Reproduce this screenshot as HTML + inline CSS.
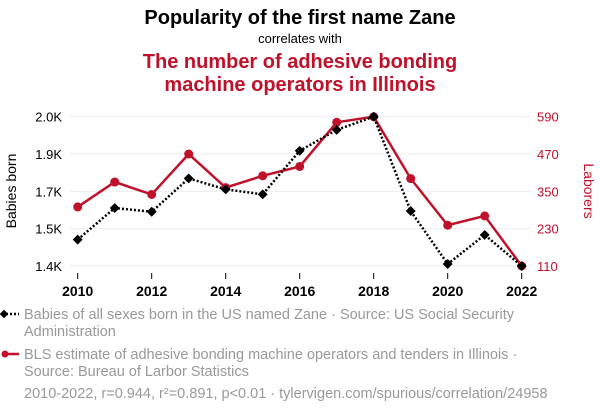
<!DOCTYPE html>
<html><head><meta charset="utf-8"><style>
body{margin:0;background:#fff;width:600px;height:414px;overflow:hidden;font-family:"Liberation Sans",Arial,sans-serif}
</style></head><body>
<svg id="c" width="600" height="414" xmlns="http://www.w3.org/2000/svg">
<text x="300" y="24" text-anchor="middle" font-size="20" font-weight="bold" fill="#000">Popularity of the first name Zane</text>
<text x="300" y="43" text-anchor="middle" font-size="13" fill="#000">correlates with</text>
<text x="300" y="68" text-anchor="middle" font-size="20" font-weight="bold" fill="#c0112b">The number of adhesive bonding</text>
<text x="300" y="91" text-anchor="middle" font-size="20" font-weight="bold" fill="#c0112b">machine operators in Illinois</text>
<text transform="translate(16,191) rotate(-90)" text-anchor="middle" font-size="14" fill="#000">Babies born</text>
<text transform="translate(584,191) rotate(90)" text-anchor="middle" font-size="14" fill="#c0112b">Laborers</text>
<g id="grid"></g><g id="axes"></g><g id="marks"></g>
<g>
<line x1="2" y1="314" x2="19" y2="314" stroke="#000" stroke-width="2.5" stroke-dasharray="2,2"/>
<rect x="1" y="311" width="6" height="6" transform="rotate(45 4 314)" fill="#000"/>
<text x="24" y="319" font-size="14.5" fill="#999">Babies of all sexes born in the US named Zane · Source: US Social Security</text>
<text x="24" y="336" font-size="14.5" fill="#999">Administration</text>
</g>
<g>
<line x1="2" y1="354" x2="19" y2="354" stroke="#c0112b" stroke-width="2.5"/>
<circle cx="5" cy="354" r="3.5" fill="#c0112b"/>
<text x="24" y="359" font-size="14.5" fill="#999">BLS estimate of adhesive bonding machine operators and tenders in Illinois ·</text>
<text x="24" y="376" font-size="14.5" fill="#999">Source: Bureau of Larbor Statistics</text>
</g>
<text x="24" y="398" font-size="14.5" fill="#999">2010-2022, r=0.944, r²=0.891, p&lt;0.01 · tylervigen.com/spurious/correlation/24958</text>
</svg>
<script>
const years=[2010,2011,2012,2013,2014,2015,2016,2017,2018,2019,2020,2021,2022];
const zane=[1506,1633,1618,1752,1708,1688,1863,1947,2000,1621,1408,1525,1400];
const operators=[300,380,340,470,362,400,430,572,590,391,241,271,110];
const leftTicks=[1400,1550,1700,1850,2000];
const leftTickLabels=["1.4K","1.5K","1.7K","1.9K","2.0K"];
const rightTicks=[110,230,350,470,590];
const xTicks=[2010,2012,2014,2016,2018,2020,2022];
const NS="http://www.w3.org/2000/svg";
const x=v=>77.7+(v-2010)*37;
const yL=v=>266-(v-1400)/600*149.3;
const yR=v=>266-(v-110)/480*149.3;
function mk(tag,attrs,parent){const e=document.createElementNS(NS,tag);for(const k in attrs)e.setAttribute(k,attrs[k]);document.getElementById(parent).appendChild(e);return e;}
leftTicks.forEach((t,i)=>{
 const g=mk('line',{x1:70,x2:530,y1:yL(t),y2:yL(t),stroke:'#eee','stroke-width':1},'grid');
 
 
 const l=mk('text',{x:62,y:yL(t)+5,'text-anchor':'end','font-size':13,fill:'#000'},'axes');
 l.textContent=leftTickLabels[i];
 
 
});
rightTicks.forEach(t=>{
 const l=mk('text',{x:537,y:yR(t)+5,'font-size':13,fill:'#c0112b'},'axes');
 l.textContent=t;
 
 
});
xTicks.forEach(t=>{
 const tk=mk('line',{x1:x(t),x2:x(t),y1:273,y2:279,stroke:'#000','stroke-width':1},'axes');
 
 
 const l=mk('text',{x:x(t),y:296,'text-anchor':'middle','font-size':14,'font-weight':'bold',fill:'#000'},'axes');
 l.textContent=t;
 
 
});
const rl=mk('polyline',{points:years.map((yr,i)=>x(yr)+','+yR(operators[i])).join(' '),fill:'none',stroke:'#c0112b','stroke-width':2.5},'marks');


const bl=mk('polyline',{points:years.map((yr,i)=>x(yr)+','+yL(zane[i])).join(' '),fill:'none',stroke:'#000','stroke-width':2.5,'stroke-dasharray':'2,2'},'marks');


years.forEach((yr,i)=>{
 const c=mk('circle',{cx:x(yr),cy:yR(operators[i]),r:4.5,fill:'#c0112b'},'marks');
 
 
});
years.forEach((yr,i)=>{
 const cx=x(yr),cy=yL(zane[i]);
 const d=mk('rect',{x:cx-3.5,y:cy-3.5,width:7,height:7,fill:'#000',transform:`rotate(45 ${cx} ${cy})`},'marks');
 
 
});
</script>
</body></html>
